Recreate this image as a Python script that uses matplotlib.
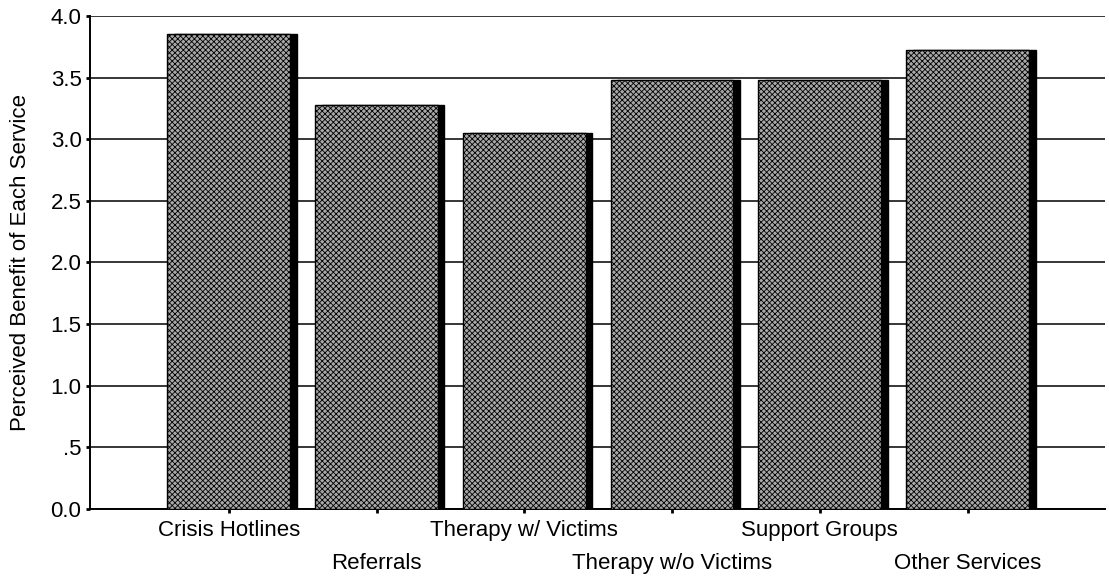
import matplotlib.pyplot as plt

plt.rcParams["font.family"] = ["Liberation Sans", "DejaVu Sans"]
plt.rcParams["hatch.linewidth"] = 0.6

# data
services = [
    "Crisis Hotlines",
    "Referrals",
    "Therapy w/ Victims",
    "Therapy w/o Victims",
    "Support Groups",
    "Other Services",
]
benefit = [3.85, 3.28, 3.05, 3.48, 3.48, 3.72]
y_ticks = [0.0, 0.5, 1.0, 1.5, 2.0, 2.5, 3.0, 3.5, 4.0]
y_tick_labels = ["0.0", ".5", "1.0", "1.5", "2.0", "2.5", "3.0", "3.5", "4.0"]


def main():
    fig = plt.figure(figsize=(11.09, 5.78), dpi=100)
    ax = fig.add_axes([0.081, 0.1194, 0.9154, 0.853])

    x = list(range(len(services)))
    bar_w = 0.83
    shadow_dx = 0.045
    fs = 16

    # horizontal grid lines behind bars
    for yv in y_ticks:
        ax.axhline(yv, color="black", linewidth=1.1, zorder=0)

    # black drop shadow on the right side
    ax.bar([xi + shadow_dx for xi in x], benefit, width=bar_w,
           color="black", edgecolor="black", zorder=2)
    ax.bar(x, benefit, width=bar_w, color="#a8a8a8", edgecolor="black",
           hatch="xxxxxx", linewidth=1.0, zorder=3)

    ax.set_ylim(0, 4.0)
    ax.set_xlim(-0.94, 5.93)
    ax.set_yticks(y_ticks)
    ax.set_yticklabels(y_tick_labels, fontsize=fs)
    ax.set_ylabel("Perceived Benefit of Each Service", fontsize=fs, labelpad=14)

    # alternate labels on two rows
    ax.set_xticks(x[0::2])
    ax.set_xticklabels(services[0::2], fontsize=fs)
    ax.set_xticks(x[1::2], minor=True)
    ax.set_xticklabels(services[1::2], minor=True, fontsize=fs)
    ax.tick_params(axis="x", which="major", length=3, width=2, pad=5)
    ax.tick_params(axis="x", which="minor", length=3, width=2, pad=29)
    ax.tick_params(axis="y", length=3, width=2, pad=3)

    for side in ["top", "right"]:
        ax.spines[side].set_visible(False)
    ax.spines["left"].set_linewidth(1.4)
    ax.spines["bottom"].set_linewidth(1.4)

    fig.savefig("out.png", dpi=100)
    plt.close(fig)


if __name__ == "__main__":
    main()
